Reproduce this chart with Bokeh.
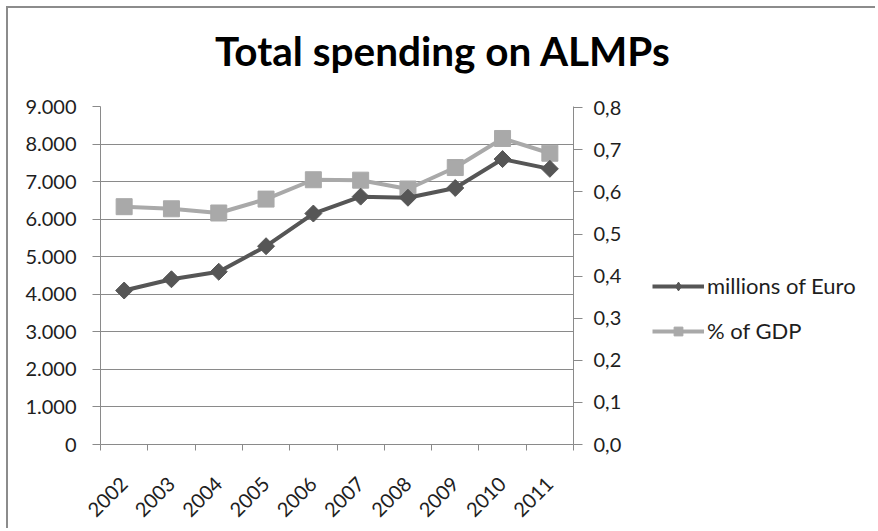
import math
from bokeh.plotting import figure
from bokeh.layouts import row
from bokeh.models import Range1d, LinearAxis, FixedTicker, Legend, LegendItem, Label
from bokeh.embed import file_html
from bokeh.resources import INLINE

years = [2002, 2003, 2004, 2005, 2006, 2007, 2008, 2009, 2010, 2011]
euro = [4100, 4400, 4600, 5280, 6150, 6600, 6570, 6830, 7600, 7340]
gdp = [0.565, 0.560, 0.550, 0.583, 0.629, 0.628, 0.607, 0.658, 0.727, 0.692]

left_ticks = [0, 1000, 2000, 3000, 4000, 5000, 6000, 7000, 8000, 9000]
left_labels = ["0", "1.000", "2.000", "3.000", "4.000", "5.000", "6.000", "7.000", "8.000", "9.000"]
right_ticks = [0.0, 0.1, 0.2, 0.3, 0.4, 0.5, 0.6, 0.7, 0.8]
right_labels = ["0,0", "0,1", "0,2", "0,3", "0,4", "0,5", "0,6", "0,7", "0,8"]
series_names = ["millions of Euro", "% of GDP"]
title_text = "Total spending on ALMPs"

FONT = "Lato"
DARK = "#565656"
LIGHT = "#a9a9a9"
GRID = "#8a8a8a"
TXT = "#1e1e1e"
BORDER = "2px solid #8c8c8c"

xc = [i + 0.5 for i in range(len(years))]
xb = list(range(len(years) + 1))

# ---- title strip ----
tf = figure(width=869, height=80, output_backend="svg", toolbar_location=None, title=None,
            x_range=Range1d(0, 1), y_range=Range1d(0, 1),
            x_axis_location=None, y_axis_location=None,
            min_border_left=0, min_border_right=0, min_border_top=0, min_border_bottom=0)
tf.outline_line_color = None
tf.xgrid.grid_line_color = None
tf.ygrid.grid_line_color = None
tf.add_layout(Label(x=0.5, y=0.47, text=title_text, text_align="center",
                    text_baseline="alphabetic", text_font=FONT, text_font_size="40.5px",
                    text_font_style="bold", text_color="#000000"))
tf.styles = {"border-left": BORDER, "border-top": BORDER, "margin-left": "6px", "margin-top": "6px"}

# ---- main chart ----
p = figure(width=620, height=442, output_backend="svg", toolbar_location=None, title=None,
           x_range=Range1d(0, len(years)), y_range=Range1d(0, 9000),
           min_border_left=92, min_border_right=55, min_border_top=20, min_border_bottom=84)
p.outline_line_color = None
p.background_fill_color = "white"
p.border_fill_color = "white"

p.extra_y_ranges = {"gdp": Range1d(0, 0.803)}

xa = p.xaxis[0]
xa.ticker = FixedTicker(ticks=xc, minor_ticks=xb)
xa.major_label_overrides = {c: str(y) for c, y in zip(xc, years)}
xa.major_label_orientation = math.pi / 4
xa.major_tick_in = 0
xa.major_tick_out = 0
xa.minor_tick_in = 0
xa.minor_tick_out = 6
xa.minor_tick_line_color = GRID
xa.axis_line_color = GRID
xa.major_label_text_font = FONT
xa.major_label_text_font_size = "20px"
xa.major_label_text_color = TXT
xa.major_label_standoff = 30

ya = p.yaxis[0]
ya.ticker = FixedTicker(ticks=left_ticks)
ya.major_label_overrides = {v: s for v, s in zip(left_ticks, left_labels)}
ya.major_tick_in = 0
ya.major_tick_out = 8
ya.minor_tick_out = 0
ya.minor_tick_in = 0
ya.major_tick_line_color = GRID
ya.axis_line_color = GRID
ya.major_label_text_font = FONT
ya.major_label_text_font_size = "20px"
ya.major_label_text_color = TXT
ya.major_label_standoff = 16

ra = LinearAxis(y_range_name="gdp", ticker=FixedTicker(ticks=right_ticks))
ra.major_label_overrides = {v: s for v, s in zip(right_ticks, right_labels)}
ra.major_tick_in = 0
ra.major_tick_out = 9
ra.minor_tick_out = 0
ra.minor_tick_in = 0
ra.major_tick_line_color = GRID
ra.axis_line_color = GRID
ra.major_label_text_font = FONT
ra.major_label_text_font_size = "20px"
ra.major_label_text_color = TXT
ra.major_label_standoff = 11
p.add_layout(ra, "right")

p.xgrid.grid_line_color = None
p.ygrid.grid_line_color = GRID
p.ygrid.grid_line_width = 1
p.ygrid.ticker = FixedTicker(ticks=left_ticks)

p.line(xc, gdp, y_range_name="gdp", line_color=LIGHT, line_width=4)
p.scatter(xc, gdp, y_range_name="gdp", marker="square", size=16,
          fill_color=LIGHT, line_color=LIGHT)
p.line(xc, euro, line_color=DARK, line_width=4)
p.scatter(xc, euro, marker="square", angle=math.pi / 4, size=12,
          fill_color=DARK, line_color=DARK)

# ---- legend panel ----
q = figure(width=249, height=442, output_backend="svg", toolbar_location=None, title=None,
           x_range=Range1d(0, 1), y_range=Range1d(-2, -1),
           x_axis_location=None, y_axis_location=None,
           min_border_left=0, min_border_right=0, min_border_top=0, min_border_bottom=0)
q.outline_line_color = None
q.xgrid.grid_line_color = None
q.ygrid.grid_line_color = None
q.background_fill_color = "white"
q.border_fill_color = "white"

# series re-drawn outside q's visible range: they only feed the legend glyphs
k1 = q.line(xc, euro, line_color=DARK, line_width=4)
m1 = q.scatter(xc, euro, marker="diamond", size=16, fill_color=DARK, line_color=DARK)
k2 = q.line(xc, gdp, line_color=LIGHT, line_width=4)
m2 = q.scatter(xc, gdp, marker="square", size=14, fill_color=LIGHT, line_color=LIGHT)

legend = Legend(items=[LegendItem(label=series_names[0], renderers=[k1, m1]),
                       LegendItem(label=series_names[1], renderers=[k2, m2])],
                location=(24, 100), orientation="vertical")
legend.margin = 0
legend.padding = 0
legend.border_line_color = None
legend.background_fill_alpha = 0
legend.glyph_width = 52
legend.glyph_height = 22
legend.label_height = 22
legend.spacing = 18
legend.label_standoff = 3
legend.label_text_font = FONT
legend.label_text_font_size = "22px"
legend.label_text_color = TXT
q.add_layout(legend, "center")

main = row(p, q, spacing=0)
main.styles = {"border-left": BORDER, "margin-left": "6px"}

open("out.html", "w").write(file_html([tf, main], INLINE))
